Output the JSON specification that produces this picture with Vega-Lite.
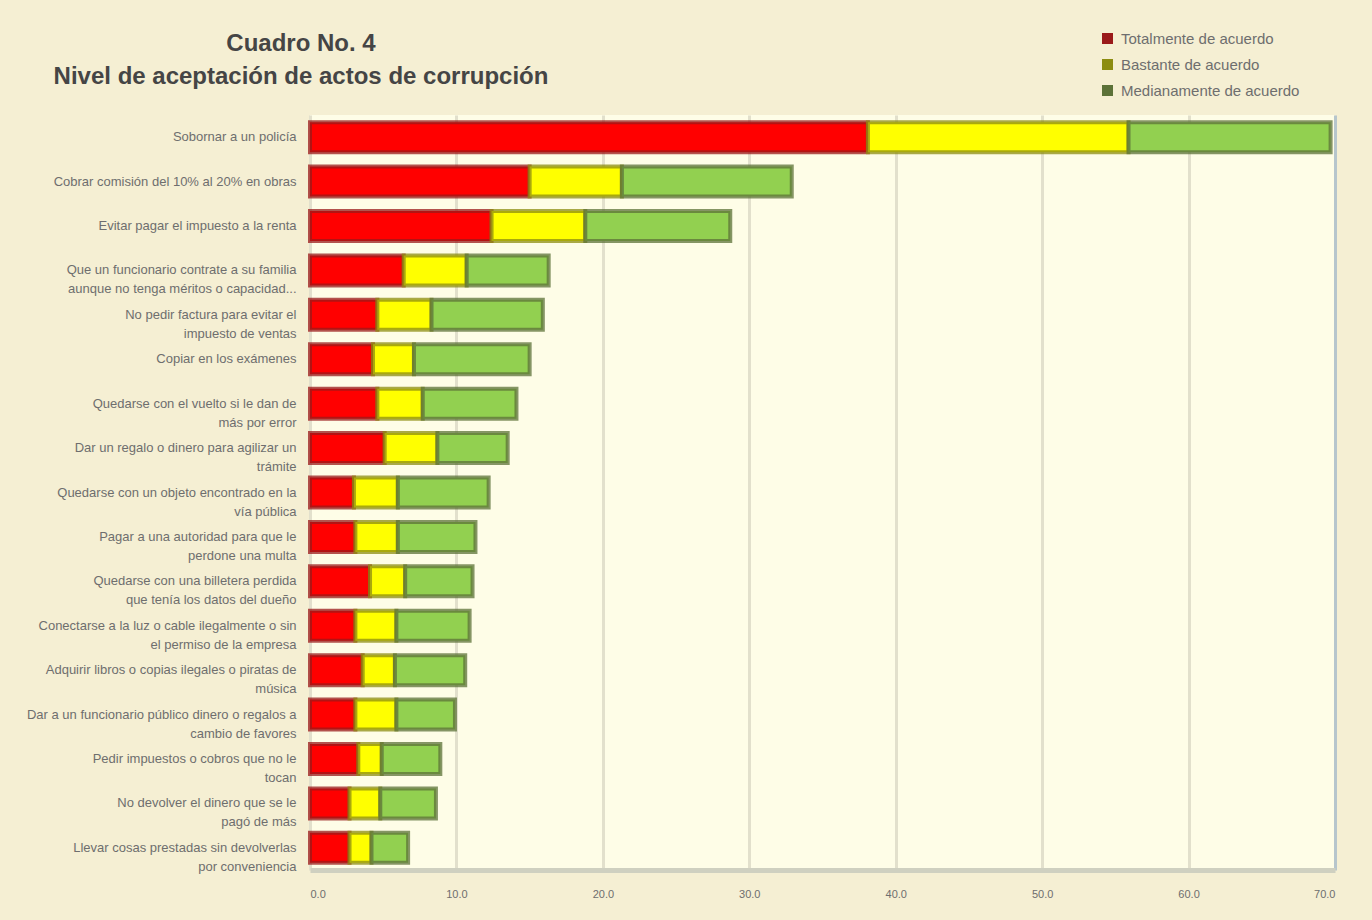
{
  "$schema": "https://vega.github.io/schema/vega-lite/v6.json",
  "width": 1025,
  "height": 755,
  "autosize": {"type": "none"},
  "padding": {"left": 310, "top": 115, "right": 37, "bottom": 50},
  "background": "#F5EFD3",
  "title": {
    "text": ["Cuadro No. 4", "Nivel de aceptación de actos de corrupción"],
    "anchor": "start",
    "frame": "group",
    "align": "center",
    "dx": -9,
    "offset": -58,
    "fontSize": 24,
    "lineHeight": 33,
    "color": "#454545",
    "font": "Liberation Sans",
    "fontWeight": "bold"
  },
  "config": {
    "view": {"fill": "#FEFDE7", "stroke": null},
    "font": "Liberation Sans"
  },
  "data": {
    "values": [
      {"item": "Sobornar a un policía", "serie": "Totalmente de acuerdo", "orden": 1, "valor": 38.1},
      {"item": "Sobornar a un policía", "serie": "Bastante de acuerdo", "orden": 2, "valor": 17.8},
      {"item": "Sobornar a un policía", "serie": "Medianamente de acuerdo", "orden": 3, "valor": 13.8},
      {"item": "Cobrar comisión del 10% al 20% en obras", "serie": "Totalmente de acuerdo", "orden": 1, "valor": 15.0},
      {"item": "Cobrar comisión del 10% al 20% en obras", "serie": "Bastante de acuerdo", "orden": 2, "valor": 6.3},
      {"item": "Cobrar comisión del 10% al 20% en obras", "serie": "Medianamente de acuerdo", "orden": 3, "valor": 11.6},
      {"item": "Evitar pagar el impuesto a la renta", "serie": "Totalmente de acuerdo", "orden": 1, "valor": 12.4},
      {"item": "Evitar pagar el impuesto a la renta", "serie": "Bastante de acuerdo", "orden": 2, "valor": 6.4},
      {"item": "Evitar pagar el impuesto a la renta", "serie": "Medianamente de acuerdo", "orden": 3, "valor": 9.9},
      {"item": "Que un funcionario contrate a su familia|aunque no tenga méritos o capacidad...", "serie": "Totalmente de acuerdo", "orden": 1, "valor": 6.4},
      {"item": "Que un funcionario contrate a su familia|aunque no tenga méritos o capacidad...", "serie": "Bastante de acuerdo", "orden": 2, "valor": 4.3},
      {"item": "Que un funcionario contrate a su familia|aunque no tenga méritos o capacidad...", "serie": "Medianamente de acuerdo", "orden": 3, "valor": 5.6},
      {"item": "No pedir factura para evitar el|impuesto de ventas", "serie": "Totalmente de acuerdo", "orden": 1, "valor": 4.6},
      {"item": "No pedir factura para evitar el|impuesto de ventas", "serie": "Bastante de acuerdo", "orden": 2, "valor": 3.7},
      {"item": "No pedir factura para evitar el|impuesto de ventas", "serie": "Medianamente de acuerdo", "orden": 3, "valor": 7.6},
      {"item": "Copiar en los exámenes", "serie": "Totalmente de acuerdo", "orden": 1, "valor": 4.3},
      {"item": "Copiar en los exámenes", "serie": "Bastante de acuerdo", "orden": 2, "valor": 2.8},
      {"item": "Copiar en los exámenes", "serie": "Medianamente de acuerdo", "orden": 3, "valor": 7.9},
      {"item": "Quedarse con el vuelto si le dan de|más por error", "serie": "Totalmente de acuerdo", "orden": 1, "valor": 4.6},
      {"item": "Quedarse con el vuelto si le dan de|más por error", "serie": "Bastante de acuerdo", "orden": 2, "valor": 3.1},
      {"item": "Quedarse con el vuelto si le dan de|más por error", "serie": "Medianamente de acuerdo", "orden": 3, "valor": 6.4},
      {"item": "Dar un regalo o dinero para agilizar un|trámite", "serie": "Totalmente de acuerdo", "orden": 1, "valor": 5.1},
      {"item": "Dar un regalo o dinero para agilizar un|trámite", "serie": "Bastante de acuerdo", "orden": 2, "valor": 3.6},
      {"item": "Dar un regalo o dinero para agilizar un|trámite", "serie": "Medianamente de acuerdo", "orden": 3, "valor": 4.8},
      {"item": "Quedarse con un objeto encontrado en la|vía pública", "serie": "Totalmente de acuerdo", "orden": 1, "valor": 3.0},
      {"item": "Quedarse con un objeto encontrado en la|vía pública", "serie": "Bastante de acuerdo", "orden": 2, "valor": 3.0},
      {"item": "Quedarse con un objeto encontrado en la|vía pública", "serie": "Medianamente de acuerdo", "orden": 3, "valor": 6.2},
      {"item": "Pagar a una autoridad para que le|perdone una multa", "serie": "Totalmente de acuerdo", "orden": 1, "valor": 3.1},
      {"item": "Pagar a una autoridad para que le|perdone una multa", "serie": "Bastante de acuerdo", "orden": 2, "valor": 2.9},
      {"item": "Pagar a una autoridad para que le|perdone una multa", "serie": "Medianamente de acuerdo", "orden": 3, "valor": 5.3},
      {"item": "Quedarse con una billetera perdida|que tenía los datos del dueño", "serie": "Totalmente de acuerdo", "orden": 1, "valor": 4.1},
      {"item": "Quedarse con una billetera perdida|que tenía los datos del dueño", "serie": "Bastante de acuerdo", "orden": 2, "valor": 2.4},
      {"item": "Quedarse con una billetera perdida|que tenía los datos del dueño", "serie": "Medianamente de acuerdo", "orden": 3, "valor": 4.6},
      {"item": "Conectarse a la luz o cable ilegalmente o sin|el permiso de la empresa", "serie": "Totalmente de acuerdo", "orden": 1, "valor": 3.1},
      {"item": "Conectarse a la luz o cable ilegalmente o sin|el permiso de la empresa", "serie": "Bastante de acuerdo", "orden": 2, "valor": 2.8},
      {"item": "Conectarse a la luz o cable ilegalmente o sin|el permiso de la empresa", "serie": "Medianamente de acuerdo", "orden": 3, "valor": 5.0},
      {"item": "Adquirir libros o copias ilegales o piratas de|música", "serie": "Totalmente de acuerdo", "orden": 1, "valor": 3.6},
      {"item": "Adquirir libros o copias ilegales o piratas de|música", "serie": "Bastante de acuerdo", "orden": 2, "valor": 2.2},
      {"item": "Adquirir libros o copias ilegales o piratas de|música", "serie": "Medianamente de acuerdo", "orden": 3, "valor": 4.8},
      {"item": "Dar a un funcionario público dinero o regalos a|cambio de favores", "serie": "Totalmente de acuerdo", "orden": 1, "valor": 3.1},
      {"item": "Dar a un funcionario público dinero o regalos a|cambio de favores", "serie": "Bastante de acuerdo", "orden": 2, "valor": 2.8},
      {"item": "Dar a un funcionario público dinero o regalos a|cambio de favores", "serie": "Medianamente de acuerdo", "orden": 3, "valor": 4.0},
      {"item": "Pedir impuestos o cobros que no le|tocan", "serie": "Totalmente de acuerdo", "orden": 1, "valor": 3.3},
      {"item": "Pedir impuestos o cobros que no le|tocan", "serie": "Bastante de acuerdo", "orden": 2, "valor": 1.6},
      {"item": "Pedir impuestos o cobros que no le|tocan", "serie": "Medianamente de acuerdo", "orden": 3, "valor": 4.0},
      {"item": "No devolver el dinero que se le|pagó de más", "serie": "Totalmente de acuerdo", "orden": 1, "valor": 2.7},
      {"item": "No devolver el dinero que se le|pagó de más", "serie": "Bastante de acuerdo", "orden": 2, "valor": 2.1},
      {"item": "No devolver el dinero que se le|pagó de más", "serie": "Medianamente de acuerdo", "orden": 3, "valor": 3.8},
      {"item": "Llevar cosas prestadas sin devolverlas|por conveniencia", "serie": "Totalmente de acuerdo", "orden": 1, "valor": 2.7},
      {"item": "Llevar cosas prestadas sin devolverlas|por conveniencia", "serie": "Bastante de acuerdo", "orden": 2, "valor": 1.5},
      {"item": "Llevar cosas prestadas sin devolverlas|por conveniencia", "serie": "Medianamente de acuerdo", "orden": 3, "valor": 2.5}
    ]
  },
  "mark": {"type": "bar", "size": 30, "strokeWidth": 4, "strokeOpacity": 0.75},
  "encoding": {
    "y": {
      "field": "item",
      "type": "nominal",
      "sort": null,
      "title": null,
      "axis": {
        "labelExpr": "split(datum.label, '|')",
        "labelFontSize": 13,
        "labelColor": "#6e6e6e",
        "labelLimit": 320,
        "labelPadding": 14,
        "labelLineHeight": 19,
        "ticks": false,
        "domain": false
      }
    },
    "x": {
      "field": "valor",
      "type": "quantitative",
      "stack": "zero",
      "title": null,
      "scale": {"domain": [0, 70], "nice": false},
      "axis": {
        "values": [0, 10, 20, 30, 40, 50, 60, 70],
        "format": ".1f",
        "labelFontSize": 11,
        "labelColor": "#6e6e6e",
        "labelPadding": 18,
        "ticks": false,
        "domainColor": "#cfd0c0",
        "domainWidth": 5,
        "grid": true,
        "gridWidth": 3,
        "gridColor": {"condition": {"test": "datum.value === 70", "value": "#b7c6cc"}, "value": "#e2e0cc"}
      }
    },
    "order": {"field": "orden", "type": "quantitative"},
    "fill": {
      "field": "serie",
      "type": "nominal",
      "scale": {
        "domain": ["Totalmente de acuerdo", "Bastante de acuerdo", "Medianamente de acuerdo"],
        "range": ["#FF0000", "#FFFF00", "#92D050"]
      },
      "legend": {
        "title": null,
        "orient": "none",
        "legendX": 790,
        "legendY": -84,
        "symbolType": "square",
        "symbolSize": 25,
        "symbolStrokeWidth": 6,
        "labelFontSize": 15,
        "labelColor": "#6e6e6e",
        "labelLimit": 260,
        "rowPadding": -3,
        "labelOffset": 6
      }
    },
    "stroke": {
      "field": "serie",
      "type": "nominal",
      "scale": {
        "domain": ["Totalmente de acuerdo", "Bastante de acuerdo", "Medianamente de acuerdo"],
        "range": ["#9A1A1A", "#8C8C10", "#5C7238"]
      },
      "legend": {
        "title": null,
        "orient": "none",
        "legendX": 790,
        "legendY": -84,
        "symbolType": "square",
        "symbolSize": 25,
        "symbolStrokeWidth": 6,
        "labelFontSize": 15,
        "labelColor": "#6e6e6e",
        "labelLimit": 260,
        "rowPadding": -3,
        "labelOffset": 6
      }
    }
  }
}
